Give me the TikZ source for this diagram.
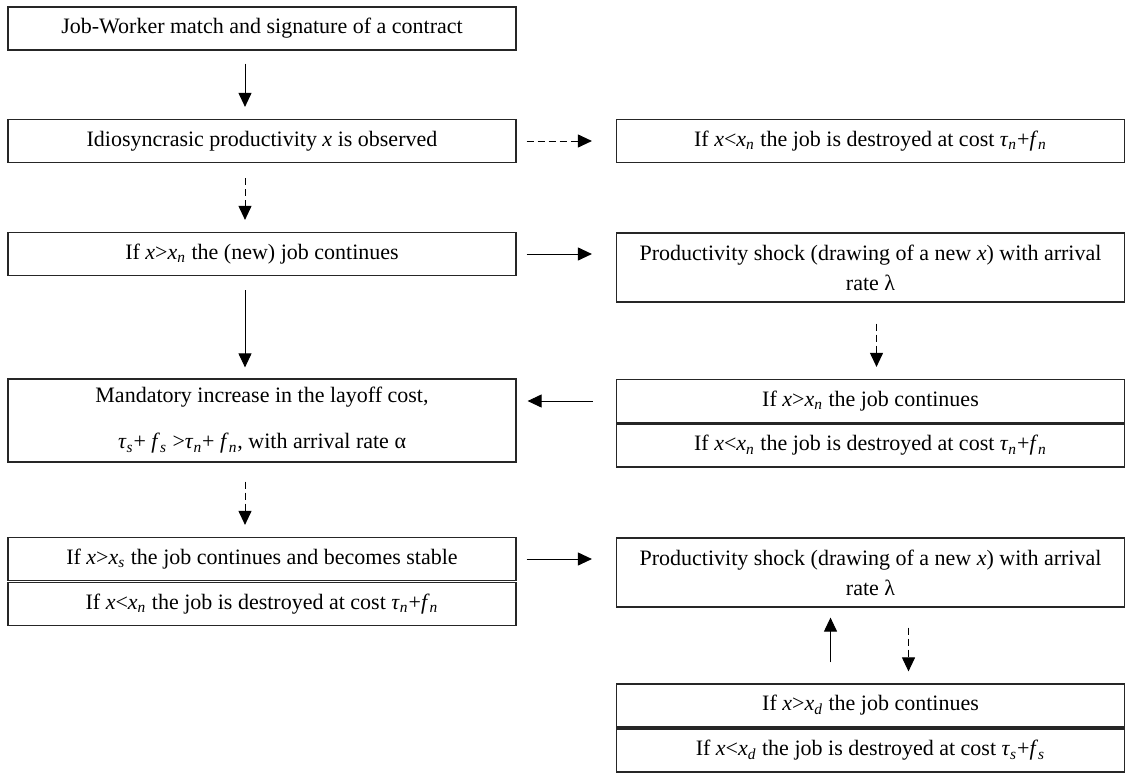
\documentclass[tikz,border=0pt]{standalone}
\usepackage{fontspec}
\setmainfont{Liberation Serif}
\usepackage{tikz}
\usetikzlibrary{arrows.meta}
\newcommand{\xsub}[1]{\textit{x}\textsubscript{\textit{#1}}}
\newcommand{\tsub}[1]{\textit{τ}\textsubscript{\textit{#1}}}
\newcommand{\fsub}[1]{\textit{f}\textsubscript{\textit{#1}}}
\tikzset{
  box/.style={draw=black!85, line width=0.6pt, rectangle, minimum width=254pt,
    minimum height=21.5pt, inner sep=0pt, align=center,
    font=\fontsize{11}{13}\selectfont},
  twobox/.style={box, minimum height=34.5pt},
  flow/.style={-{Triangle[length=7pt,width=6.5pt]}, line width=0.5pt,
    shorten <=6.5pt, shorten >=6pt},
  dflow/.style={flow, dash pattern=on 3.5pt off 2pt},
  hgap/.style={shorten <=5pt, shorten >=12pt},
}

\begin{document}
\begin{tikzpicture}[x=0.5pt,y=-0.5pt]
\fill[white] (0,0) rectangle (1127,776);
% left column
\node[box] (match) at (262,28.5) {Job-Worker match and signature of a contract};
\node[box] (observe) at (262,141) {Idiosyncrasic productivity \textit{x} is observed};
\node[box] (newjob) at (262,254) {If \textit{x}>\xsub{n} the (new) job continues};
\node[box, minimum height=41.5pt] (increase) at (262,420.5)
  {Mandatory increase in the layoff cost,\\[10pt]
   \tsub{s}+ \fsub{s} >\tsub{n}+ \fsub{n}, with arrival rate α};
\node[box] (stable) at (262,559) {If \textit{x}>\xsub{s} the job continues and becomes stable};
\node[box] (destroyn) at (262,604) {If \textit{x}<\xsub{n} the job is destroyed at cost \tsub{n}+\fsub{n}};
% right column
\node[box] (destroyA) at (870.5,141) {If \textit{x}<\xsub{n} the job is destroyed at cost \tsub{n}+\fsub{n}};
\node[twobox] (shockA) at (870.5,267.5) {Productivity shock (drawing of a new \textit{x}) with arrival\\[2pt]rate λ};
\node[box] (contn) at (870.5,401) {If \textit{x}>\xsub{n} the job continues};
\node[box] (destroyB) at (870.5,445.5) {If \textit{x}<\xsub{n} the job is destroyed at cost \tsub{n}+\fsub{n}};
\node[twobox] (shockB) at (870.5,572.5) {Productivity shock (drawing of a new \textit{x}) with arrival\\[2pt]rate λ};
\node[box] (contd) at (870.5,705.5) {If \textit{x}>\xsub{d} the job continues};
\node[box] (destroyd) at (870.5,750.5) {If \textit{x}<\xsub{d} the job is destroyed at cost \tsub{s}+\fsub{s}};
% arrows
\draw[flow] ([xshift=-8.5pt]match.south) -- ([xshift=-8.5pt]observe.north);
\draw[dflow, shorten <=7.5pt] ([xshift=-8.5pt]observe.south) -- ([xshift=-8.5pt]newjob.north);
\draw[dflow, hgap] (observe.east) -- (observe.east -| destroyA.west);
\draw[flow, hgap] (newjob.east) -- (newjob.east -| shockA.west);
\draw[flow, shorten <=7pt, shorten >=5.5pt] ([xshift=-8.5pt]newjob.south) -- ([xshift=-8.5pt]increase.north);
\draw[dflow, shorten <=10.5pt] ([xshift=3pt]shockA.south) -- ([xshift=3pt]contn.north);
\draw[flow, shorten <=11.5pt, shorten >=5.5pt] (contn.west) -- (contn.west -| increase.east);
\draw[dflow, shorten <=9.5pt] ([xshift=-8.5pt]increase.south) -- ([xshift=-8.5pt]stable.north);
\draw[flow, hgap] (stable.east) -- (stable.east -| shockB.west);
\draw[flow, shorten <=10.5pt, shorten >=5pt] ([xshift=-20pt]contd.north) -- ([xshift=-20pt]shockB.south);
\draw[dflow, shorten <=10pt] ([xshift=19pt]shockB.south) -- ([xshift=19pt]contd.north);
\end{tikzpicture}
\end{document}
